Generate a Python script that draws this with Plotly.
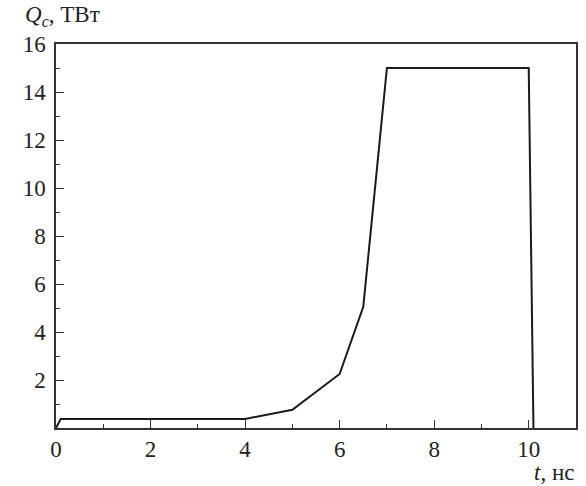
import plotly.graph_objects as go

t_ns = [0, 0.1, 4, 5, 6, 6.5, 7, 10, 10.1]
q_tw = [0, 0.38, 0.38, 0.76, 2.25, 5.05, 15, 15, 0]

x_ticks = [0, 2, 4, 6, 8, 10]
y_ticks = [2, 4, 6, 8, 10, 12, 14, 16]

FONT = "Liberation Serif"
FS = 23

fig = go.Figure()
fig.add_trace(go.Scatter(x=t_ns, y=q_tw, mode="lines",
                         line=dict(color="#1a1a1a", width=2), showlegend=False))

axis_common = dict(showline=True, linecolor="#333333", linewidth=1.5, mirror=True,
                   showgrid=False, zeroline=False, ticks="inside", ticklen=8,
                   tickwidth=1.2, tickcolor="#333333")

fig.update_xaxes(range=[0, 11], tickvals=x_ticks, ticktext=[str(v) for v in x_ticks],
                 tickfont=dict(family=FONT, size=FS, color="#222222"),
                 minor=dict(dtick=1, tick0=0, ticks="inside", ticklen=4, tickcolor="#333333", tickwidth=1.2),
                 **axis_common)
fig.update_yaxes(range=[0, 16], tickvals=y_ticks, ticktext=[str(v) for v in y_ticks],
                 tickfont=dict(family=FONT, size=FS, color="#222222"),
                 minor=dict(dtick=1, tick0=0, ticks="inside", ticklen=4, tickcolor="#333333", tickwidth=1.2),
                 ticklabelstandoff=4,
                 **axis_common)

fig.add_annotation(x=0, y=1, xref="paper", yref="paper", xanchor="right", yanchor="bottom",
                   xshift=46, yshift=12,
                   text="<i>Q<sub>c</sub></i>, ТВт", showarrow=False,
                   font=dict(family=FONT, size=FS, color="#222222"))
fig.add_annotation(x=1, y=0, xref="paper", yref="paper", xanchor="right", yanchor="top",
                   yshift=-30,
                   text="<i>t</i>, нс", showarrow=False,
                   font=dict(family=FONT, size=FS, color="#222222"))

fig.update_layout(width=586, height=486, margin=dict(l=56, r=8, t=44, b=58),
                  plot_bgcolor="white", paper_bgcolor="white",
                  font=dict(family=FONT, size=FS))

fig.write_html("out.html")
